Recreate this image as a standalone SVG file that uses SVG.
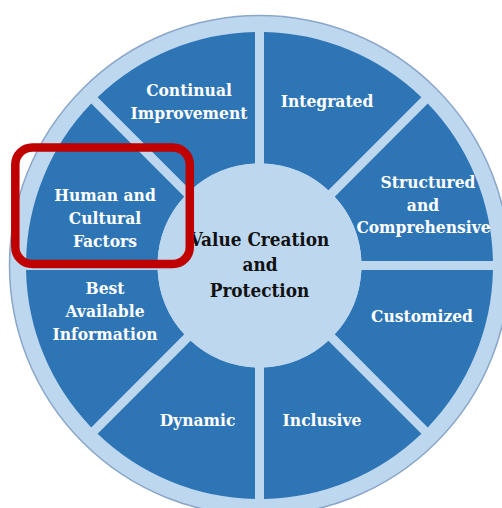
<svg xmlns="http://www.w3.org/2000/svg" width="502" height="508" viewBox="0 0 502 508">
<style>
.seg{fill:#2E75B6;}
.lbl{font-family:"DejaVu Serif Condensed","DejaVu Serif",serif;font-stretch:condensed;font-weight:bold;font-size:17.3px;fill:#FFFFFF;text-anchor:middle;}
.ctr{font-family:"DejaVu Serif Condensed","DejaVu Serif",serif;font-stretch:condensed;font-weight:bold;font-size:18.8px;fill:#111111;text-anchor:middle;}
</style>
<rect x="0" y="0" width="502" height="508" fill="#FFFFFF"/>
<g id="wheel">
<circle cx="259.5" cy="265.5" r="250" fill="#BDD7EE" stroke="#8AA6C9" stroke-width="1.5"/>
</g>
<g id="integrated">
<path class="seg" d="M264,163.6 L264,32.043 A233.5,233.5 0 0 1 421.398,97.238 L328.372,190.264 A102,102 0 0 0 264,163.6Z"/>
<text class="lbl" x="327" y="107">Integrated</text>
</g>
<g id="structured">
<path class="seg" d="M334.736,196.628 L427.762,103.602 A233.5,233.5 0 0 1 492.957,261 L361.4,261 A102,102 0 0 0 334.736,196.628Z"/>
<text class="lbl" x="428" y="188">Structured</text>
<text class="lbl" x="423" y="211">and</text>
<text class="lbl" x="423.5" y="233">Comprehensive</text>
</g>
<g id="customized">
<path class="seg" d="M361.4,270 L492.957,270 A233.5,233.5 0 0 1 427.762,427.398 L334.736,334.372 A102,102 0 0 0 361.4,270Z"/>
<text class="lbl" x="422" y="322">Customized</text>
</g>
<g id="inclusive">
<path class="seg" d="M328.372,340.736 L421.398,433.762 A233.5,233.5 0 0 1 264,498.957 L264,367.4 A102,102 0 0 0 328.372,340.736Z"/>
<text class="lbl" x="322" y="426">Inclusive</text>
</g>
<g id="dynamic">
<path class="seg" d="M255,367.4 L255,498.957 A233.5,233.5 0 0 1 97.602,433.762 L190.628,340.736 A102,102 0 0 0 255,367.4Z"/>
<text class="lbl" x="197.5" y="426">Dynamic</text>
</g>
<g id="best-available-information">
<path class="seg" d="M184.264,334.372 L91.238,427.398 A233.5,233.5 0 0 1 26.043,270 L157.6,270 A102,102 0 0 0 184.264,334.372Z"/>
<text class="lbl" x="105" y="294">Best</text>
<text class="lbl" x="105" y="317">Available</text>
<text class="lbl" x="105" y="340">Information</text>
</g>
<g id="human-cultural-factors">
<path class="seg" d="M157.6,261 L26.043,261 A233.5,233.5 0 0 1 91.238,103.602 L184.264,196.628 A102,102 0 0 0 157.6,261Z"/>
<text class="lbl" x="105" y="201">Human and</text>
<text class="lbl" x="105" y="224">Cultural</text>
<text class="lbl" x="105" y="247">Factors</text>
</g>
<g id="continual-improvement">
<path class="seg" d="M190.628,190.264 L97.602,97.238 A233.5,233.5 0 0 1 255,32.043 L255,163.6 A102,102 0 0 0 190.628,190.264Z"/>
<text class="lbl" x="189" y="96">Continual</text>
<text class="lbl" x="189" y="119">Improvement</text>
</g>
<g id="value-creation-protection">
<circle cx="259.5" cy="265.5" r="102" fill="#BDD7EE"/>
<text class="ctr" x="259.5" y="246">Value Creation</text>
<text class="ctr" x="260" y="271">and</text>
<text class="ctr" x="259.5" y="297">Protection</text>
</g>
<g id="highlight">
<rect x="15.3" y="147.5" width="174.5" height="116.5" rx="17" ry="17" fill="none" stroke="#C00000" stroke-width="8.5"/>
</g>
<g id="connectors"></g>
</svg>
